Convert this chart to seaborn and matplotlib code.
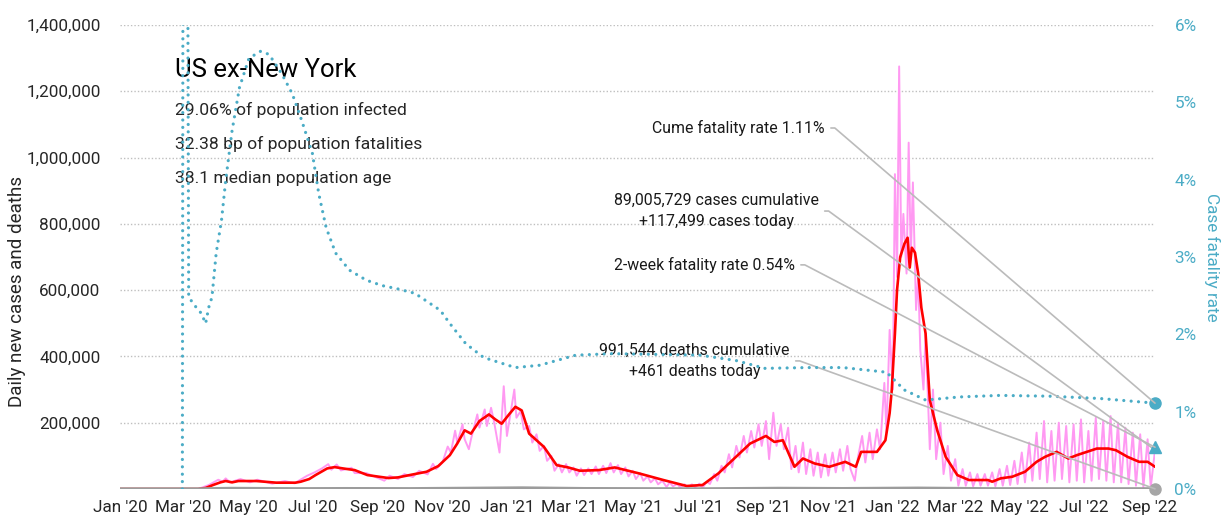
import pandas as pd
import matplotlib.pyplot as plt
import matplotlib.dates as mdates
from matplotlib.ticker import FuncFormatter
import seaborn as sns

# 7-day average of daily new cases (thousands)
red_dates = ["2020-01-01", "2020-03-15", "2020-03-22", "2020-03-29", "2020-04-05", "2020-04-10",
             "2020-04-16", "2020-04-22", "2020-05-09", "2020-05-28", "2020-06-15", "2020-06-20",
             "2020-06-28", "2020-07-04", "2020-07-15", "2020-07-22", "2020-07-30", "2020-08-10",
             "2020-08-22", "2020-09-02", "2020-09-11", "2020-09-20", "2020-10-01", "2020-10-17",
             "2020-10-28", "2020-11-08", "2020-11-15", "2020-11-22", "2020-11-28", "2020-12-06",
             "2020-12-15", "2020-12-21", "2020-12-27", "2021-01-03", "2021-01-09", "2021-01-15",
             "2021-01-22", "2021-02-05", "2021-02-17", "2021-02-28", "2021-03-11", "2021-03-29",
             "2021-04-13", "2021-05-06", "2021-05-29", "2021-06-20", "2021-07-05", "2021-07-20",
             "2021-08-04", "2021-08-19", "2021-09-03", "2021-09-11", "2021-09-19", "2021-09-30",
             "2021-10-08", "2021-10-19", "2021-11-02", "2021-11-17", "2021-11-27", "2021-12-02",
             "2021-12-17", "2021-12-25", "2021-12-29", "2021-12-31", "2022-01-03", "2022-01-05",
             "2022-01-08", "2022-01-12", "2022-01-15", "2022-01-17", "2022-01-19", "2022-01-22",
             "2022-01-25", "2022-01-28", "2022-02-01", "2022-02-05", "2022-02-12", "2022-02-20",
             "2022-03-03", "2022-03-14", "2022-04-01", "2022-04-05", "2022-04-13", "2022-04-24",
             "2022-05-06", "2022-05-17", "2022-05-25", "2022-06-05", "2022-06-16", "2022-06-24",
             "2022-07-13", "2022-07-24", "2022-07-31", "2022-08-11", "2022-08-22", "2022-08-30",
             "2022-09-06"]
red_vals = [0, 0, 3, 12, 20, 24, 20, 24, 24, 19, 19, 22, 30, 42, 62, 66, 62, 57, 42, 37, 33, 35,
            42, 52, 69, 102, 137, 177, 167, 205, 225, 210, 197, 225, 248, 237, 167, 127, 72, 65,
            55, 57, 65, 47, 27, 9, 12, 47, 92, 137, 160, 142, 147, 67, 92, 77, 67, 82, 67, 112,
            112, 147, 229, 298, 469, 600, 700, 740, 758, 668, 728, 713, 650, 547, 469, 268, 177,
            97, 42, 27, 27, 22, 32, 37, 52, 82, 97, 112, 92, 102, 122, 122, 117, 97, 82, 82, 67]

# raw daily new cases (thousands)
pink_dates = ["2020-01-01", "2020-03-15", "2020-03-25", "2020-04-03", "2020-04-07", "2020-04-10",
              "2020-04-14", "2020-04-24", "2020-05-03", "2020-05-10", "2020-05-24", "2020-06-05",
              "2020-06-14", "2020-06-26", "2020-07-03", "2020-07-10", "2020-07-16", "2020-07-19",
              "2020-07-24", "2020-07-28", "2020-08-07", "2020-08-10", "2020-08-21", "2020-08-30",
              "2020-09-07", "2020-09-12", "2020-09-20", "2020-09-26", "2020-10-04", "2020-10-10",
              "2020-10-18", "2020-10-23", "2020-10-26", "2020-11-01", "2020-11-06", "2020-11-09",
              "2020-11-13", "2020-11-15", "2020-11-20", "2020-11-22", "2020-11-26", "2020-11-28",
              "2020-12-04", "2020-12-06", "2020-12-11", "2020-12-13", "2020-12-17", "2020-12-20",
              "2020-12-25", "2020-12-29", "2021-01-01", "2021-01-03", "2021-01-08", "2021-01-10",
              "2021-01-14", "2021-01-17", "2021-01-22", "2021-01-25", "2021-01-29", "2021-02-01",
              "2021-02-05", "2021-02-08", "2021-02-12", "2021-02-15", "2021-02-19", "2021-02-22",
              "2021-02-26", "2021-03-01", "2021-03-05", "2021-03-08", "2021-03-12", "2021-03-15",
              "2021-03-19", "2021-03-22", "2021-03-26", "2021-03-29", "2021-04-02", "2021-04-05",
              "2021-04-09", "2021-04-12", "2021-04-16", "2021-04-19", "2021-04-23", "2021-04-26",
              "2021-04-30", "2021-05-03", "2021-05-07", "2021-05-10", "2021-05-14", "2021-05-17",
              "2021-05-21", "2021-05-24", "2021-05-28", "2021-06-01", "2021-06-04", "2021-06-07",
              "2021-06-11", "2021-06-14", "2021-06-18", "2021-06-21", "2021-06-25", "2021-06-28",
              "2021-07-02", "2021-07-05", "2021-07-09", "2021-07-12", "2021-07-16", "2021-07-19",
              "2021-07-23", "2021-07-26", "2021-07-30", "2021-08-02", "2021-08-06", "2021-08-09",
              "2021-08-13", "2021-08-16", "2021-08-20", "2021-08-23", "2021-08-27", "2021-08-30",
              "2021-09-03", "2021-09-06", "2021-09-10", "2021-09-13", "2021-09-17", "2021-09-20",
              "2021-09-24", "2021-09-27", "2021-10-01", "2021-10-04", "2021-10-08", "2021-10-11",
              "2021-10-15", "2021-10-18", "2021-10-22", "2021-10-25", "2021-10-29", "2021-11-01",
              "2021-11-05", "2021-11-08", "2021-11-12", "2021-11-15", "2021-11-19", "2021-11-22",
              "2021-11-26", "2021-11-29", "2021-12-03", "2021-12-06", "2021-12-10", "2021-12-13",
              "2021-12-17", "2021-12-20", "2021-12-24", "2021-12-26", "2021-12-29", "2022-01-01",
              "2022-01-03", "2022-01-05", "2022-01-07", "2022-01-09", "2022-01-11", "2022-01-14",
              "2022-01-16", "2022-01-18", "2022-01-20", "2022-01-23", "2022-01-25", "2022-01-27",
              "2022-01-30", "2022-02-01", "2022-02-05", "2022-02-08", "2022-02-11", "2022-02-15",
              "2022-02-18", "2022-02-22", "2022-02-25", "2022-03-01", "2022-03-04", "2022-03-08",
              "2022-03-11", "2022-03-15", "2022-03-18", "2022-03-22", "2022-03-25", "2022-03-29",
              "2022-04-01", "2022-04-05", "2022-04-08", "2022-04-12", "2022-04-15", "2022-04-19",
              "2022-04-22", "2022-04-26", "2022-04-29", "2022-05-03", "2022-05-06", "2022-05-10",
              "2022-05-13", "2022-05-17", "2022-05-20", "2022-05-24", "2022-05-27", "2022-05-31",
              "2022-06-03", "2022-06-07", "2022-06-10", "2022-06-14", "2022-06-17", "2022-06-21",
              "2022-06-24", "2022-06-28", "2022-07-01", "2022-07-05", "2022-07-08", "2022-07-12",
              "2022-07-15", "2022-07-19", "2022-07-22", "2022-07-26", "2022-07-29", "2022-08-02",
              "2022-08-05", "2022-08-09", "2022-08-12", "2022-08-16", "2022-08-19", "2022-08-23",
              "2022-08-26", "2022-08-30", "2022-09-02", "2022-09-06"]
pink_vals = [0, 0, 12, 28, 22, 32, 20, 30, 20, 28, 16, 24,
             17, 40, 50, 62, 75, 58, 74, 56, 64, 48, 48, 36,
             25, 40, 30, 45, 36, 55, 44, 76, 60, 80, 128, 110,
             176, 140, 195, 150, 120, 150, 225, 185, 240, 190, 245, 200,
             110, 310, 160, 200, 300, 215, 235, 180, 190, 140, 165, 115,
             130, 85, 100, 55, 75, 50, 75, 50, 65, 40, 62, 42,
             62, 45, 68, 45, 70, 48, 78, 50, 72, 45, 65, 38,
             55, 30, 48, 25, 38, 20, 32, 14, 25, 6, 20, 8,
             15, 5, 14, 4, 14, 5, 16, 3, 22, 15, 45, 25,
             70, 50, 105, 65, 130, 95, 160, 110, 175, 125, 195, 130,
             205, 90, 230, 130, 195, 120, 185, 60, 130, 50, 140, 45,
             120, 40, 110, 35, 105, 40, 110, 50, 120, 55, 130, 60,
             25, 95, 160, 80, 170, 90, 180, 120, 320, 170, 480, 300,
             950, 640, 1275, 700, 830, 650, 1045, 700, 925, 540, 640, 420,
             300, 470, 120, 300, 90, 200, 45, 130, 25, 90, 10, 60,
             10, 50, 8, 45, 10, 45, 10, 50, 8, 60, 10, 70,
             12, 85, 15, 110, 20, 140, 25, 170, 30, 205, 20, 175,
             25, 200, 30, 190, 20, 195, 25, 210, 20, 175, 25, 215,
             30, 205, 25, 220, 20, 200, 20, 185, 15, 170, 10, 165,
             5, 150, 5, 117.499]

# daily deaths (thousands), hugs the baseline
death_dates = ["2020-01-01", "2020-03-15", "2020-04-15", "2020-06-15", "2020-08-01", "2020-10-01",
               "2020-12-01", "2021-01-15", "2021-03-15", "2021-07-01", "2021-09-15", "2021-11-15",
               "2022-01-25", "2022-04-01", "2022-07-01", "2022-09-06"]
death_vals = [0, 0, 1.6, 0.6, 1.0, 0.7, 2.0, 3.0, 1.0, 0.2, 1.7, 1.0, 2.3, 0.6, 0.4, 0.461]

# cumulative case fatality rate (%)
cfr_dates = ["2020-02-29", "2020-03-01", "2020-03-04", "2020-03-06", "2020-03-13", "2020-03-18",
             "2020-03-22", "2020-03-25", "2020-03-28", "2020-04-01", "2020-04-06", "2020-04-10",
             "2020-04-16", "2020-04-23", "2020-05-02", "2020-05-13", "2020-05-21", "2020-06-02",
             "2020-06-12", "2020-06-21", "2020-07-01", "2020-07-07", "2020-07-14", "2020-07-23",
             "2020-08-05", "2020-08-21", "2020-09-05", "2020-09-19", "2020-10-06", "2020-10-30",
             "2020-11-08", "2020-11-23", "2020-12-10", "2021-01-09", "2021-02-01", "2021-03-07",
             "2021-04-10", "2021-07-03", "2021-08-06", "2021-09-02", "2021-10-13", "2021-11-15",
             "2021-12-26", "2022-01-12", "2022-02-01", "2022-03-05", "2022-04-12", "2022-05-29",
             "2022-07-16", "2022-09-06"]
cfr_vals = [0, 12, 12, 2.48, 2.35, 2.27, 2.14, 2.35, 2.48, 3.05, 3.47, 3.99,
            4.63, 5.19, 5.57, 5.66, 5.62, 5.37, 5.11, 4.76, 4.34, 3.82, 3.38, 3.05,
            2.83, 2.70, 2.63, 2.59, 2.53, 2.31, 2.14, 1.88, 1.70, 1.57, 1.60, 1.73,
            1.75, 1.73, 1.66, 1.56, 1.57, 1.57, 1.51, 1.28, 1.15, 1.19, 1.21, 1.20,
            1.17, 1.11]

end_date = "2022-09-06"
two_week_cfr = 0.54
cases_today = 117499
deaths_today = 461

title = "US ex-New York"
subtitle = ["29.06% of population infected", "32.38 bp of population fatalities",
            "38.1 median population age"]

TEAL = "#4bacc6"
PINK = "#ff99f2"
RED = "#ff0000"
GREY = "#9c9c9c"

sns.set_style("white")
# no condensed face here, Roboto is the narrowest of the installed ones
plt.rcParams["font.family"] = ["Roboto", "DejaVu Sans"]

red = pd.DataFrame({"date": pd.to_datetime(red_dates), "v": [v * 1000 for v in red_vals]})
pink = pd.DataFrame({"date": pd.to_datetime(pink_dates), "v": [v * 1000 for v in pink_vals]})
deaths = pd.DataFrame({"date": pd.to_datetime(death_dates), "v": [v * 1000 for v in death_vals]})
cfr = pd.DataFrame({"date": pd.to_datetime(cfr_dates), "v": cfr_vals})
end = pd.Timestamp(end_date)

fig = plt.figure(figsize=(12.23, 5.25), dpi=100)
ax = fig.add_axes([0.0981, 0.0686, 0.8463, 0.8838])
ax2 = ax.twinx()

sns.lineplot(data=pink, x="date", y="v", ax=ax, color=PINK, lw=1.4)
sns.lineplot(data=red, x="date", y="v", ax=ax, color=RED, lw=1.9)
sns.lineplot(data=deaths, x="date", y="v", ax=ax, color=GREY, lw=2.4)
ax.plot([end], [deaths_today], "o", color="#a6a6a6", ms=8, clip_on=False, zorder=5)

sns.lineplot(data=cfr, x="date", y="v", ax=ax2, color=TEAL, lw=2.3,
             linestyle=(0, (0.01, 2.3)), dash_capstyle="round")
ax2.plot([end], [cfr_vals[-1]], "o", color=TEAL, ms=8, clip_on=False, zorder=5)
ax2.plot([end], [two_week_cfr], "^", color=TEAL, ms=9, clip_on=False, zorder=5)

ax.set_xlim(pd.Timestamp("2020-01-01"), end)
ax.set_ylim(0, 1400000)
ax2.set_ylim(0, 6)

ax.set_yticks(range(200000, 1400001, 200000))
ax.yaxis.set_major_formatter(FuncFormatter(lambda v, p: f"{int(v):,}"))
ax2.set_yticks(range(0, 7))
ax2.yaxis.set_major_formatter(FuncFormatter(lambda v, p: f"{int(v)}%"))
ax.xaxis.set_major_locator(mdates.MonthLocator(bymonth=[1, 3, 5, 7, 9, 11]))
ax.xaxis.set_major_formatter(mdates.DateFormatter("%b '%y"))

fs = 12.3
ax.grid(axis="y", color="#bfbfbf", linestyle=(0, (1, 1.5)), lw=1)
ax.grid(axis="x", visible=False)
ax2.grid(False)
for a in (ax, ax2):
    for s in a.spines.values():
        s.set_visible(False)
ax.tick_params(axis="y", length=0, pad=14, labelsize=fs, labelcolor="#262626")
ax.tick_params(axis="x", length=0, pad=8, labelsize=fs, labelcolor="#262626")
ax2.tick_params(axis="y", length=0, pad=14, labelsize=fs, labelcolor=TEAL)

ax.set_xlabel("")
ax.set_ylabel("Daily new cases and deaths", fontsize=13.5, color="#262626")
ax.yaxis.set_label_coords(-0.091, 0.425)
ax2.set_ylabel("Case fatality rate", fontsize=fs, color=TEAL, rotation=270, labelpad=17)

ax.text(0.053, 0.903, title, transform=ax.transAxes, fontsize=18.5, va="center", ha="left",
        color="black")
for i, line in enumerate(subtitle):
    ax.text(0.053, 0.817 - i * 0.0735, line, transform=ax.transAxes, fontsize=12.6,
            va="center", ha="left", color="#262626")

conn = dict(arrowstyle="-", color="#bbbbbb", lw=1.2, relpos=(1, 0.5), shrinkA=2, shrinkB=0,
            connectionstyle="arc,angleA=0,armA=10,angleB=0,armB=0,rad=0")
ann = dict(textcoords="axes fraction", fontsize=11.4, va="center", color="#1a1a1a",
           arrowprops=conn, zorder=6)
ax2.annotate(f"Cume fatality rate {cfr_vals[-1]:.2f}%", xy=(end, cfr_vals[-1]),
             xytext=(0.681, 0.778), ha="right", **ann)
ax.annotate("89,005,729 cases cumulative\n+117,499 cases today", xy=(end, cases_today),
            xytext=(0.576, 0.599), ha="center", multialignment="center", linespacing=1.5, **ann)
ax2.annotate(f"2-week fatality rate {two_week_cfr:.2f}%", xy=(end, two_week_cfr),
             xytext=(0.652, 0.483), ha="right", **ann)
ax.annotate("991,544 deaths cumulative\n+461 deaths today", xy=(end, deaths_today),
            xytext=(0.555, 0.276), ha="center", multialignment="center", linespacing=1.5, **ann)

plt.savefig("out.png", dpi=100)
